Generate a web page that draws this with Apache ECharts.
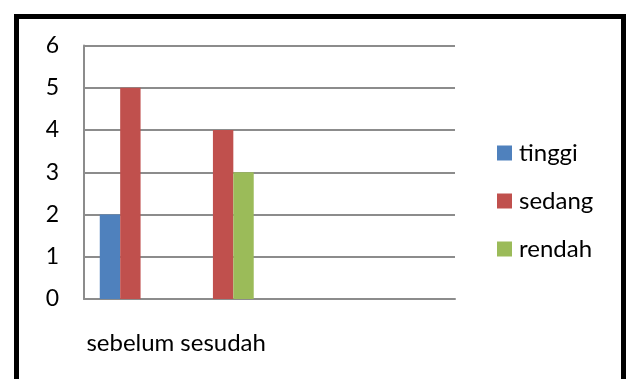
<!DOCTYPE html>
<html>
<head>
<meta charset="utf-8">
<script src="https://cdn.jsdelivr.net/npm/echarts@6/dist/echarts.min.js"></script>
<style>
  html, body { margin: 0; padding: 0; background: #fff; }
  #main { width: 627px; height: 379px; }
</style>
</head>
<body>
<div id="main"></div>
<script>
// kategori (dua kolom terakhir kosong, seperti di grafik asli)
var categories = ['sebelum', 'sesudah', '', ''];
var tinggi = [2, null, null, null];
var sedang = [5, 4, null, null];
var rendah = [null, 3, null, null];
var yTicks = [0, 1, 2, 3, 4, 5, 6];

var chart = echarts.init(document.getElementById('main'));
var font = 'Lato, "Open Sans", sans-serif';

var option = {
  animation: false,
  textStyle: { fontFamily: font },
  // bingkai hitam di luar grafik
  graphic: [{
    type: 'rect',
    shape: { x: 16.5, y: 16.5, width: 607, height: 400 },
    style: { fill: 'none', stroke: '#000', lineWidth: 5 },
    silent: true
  }],
  grid: {
    left: 84,
    right: 172,
    top: 45.5,
    bottom: 80,
    containLabel: false
  },
  legend: {
    orient: 'vertical',
    left: 497,
    top: 141,
    padding: 0,
    icon: 'rect',
    itemWidth: 15,
    itemHeight: 15,
    itemGap: 24,
    textStyle: { fontSize: 24, color: '#000', fontFamily: font, lineHeight: 24, padding: [0, 0, 0, 2] },
    data: ['tinggi', 'sedang', 'rendah']
  },
  xAxis: {
    type: 'category',
    data: categories,
    axisLine: { lineStyle: { color: '#8c8c8c', width: 2 } },
    axisTick: { show: false },
    axisLabel: {
      interval: 0,
      fontSize: 24,
      color: '#000',
      margin: 32,
      hideOverlap: false
    }
  },
  yAxis: {
    type: 'value',
    min: yTicks[0],
    max: yTicks[yTicks.length - 1],
    interval: 1,
    axisLine: { show: true, lineStyle: { color: '#8c8c8c', width: 2 } },
    axisTick: { show: false },
    axisLabel: { fontSize: 23, color: '#000', margin: 25 },
    splitLine: { lineStyle: { color: '#8c8c8c', width: 2 } }
  },
  series: [
    { name: 'tinggi', type: 'bar', data: tinggi, itemStyle: { color: '#4f81bd' }, barGap: '0%', barCategoryGap: '34%' },
    { name: 'sedang', type: 'bar', data: sedang, itemStyle: { color: '#c0504d' } },
    { name: 'rendah', type: 'bar', data: rendah, itemStyle: { color: '#9bbb59' } }
  ]
};

chart.setOption(option);
</script>
</body>
</html>
